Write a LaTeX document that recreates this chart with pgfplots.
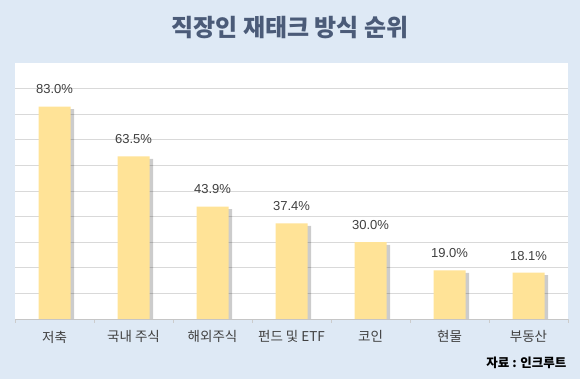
\documentclass[border=0pt]{standalone}
\usepackage{pgfplots}
\pgfplotsset{compat=1.18}
\usepackage{fontspec}
\setmainfont{Liberation Sans}
\newfontfamily\kr{Noto Sans CJK KR}
\definecolor{bgblue}{HTML}{DEE9F5}
\definecolor{titlec}{HTML}{4B5B78}
\definecolor{barc}{HTML}{FFE397}
\definecolor{labc}{HTML}{404040}
\begin{document}
\begin{tikzpicture}[x=1pt,y=1pt]
\fill[bgblue] (0,0) rectangle (580,379);
\node[font=\kr\bfseries\fontsize{24}{26}\selectfont, text=titlec] at (290,351) {직장인 재태크 방식 순위};
\node[font=\kr\bfseries\fontsize{12.5}{14}\selectfont, anchor=east] at (570,16) {자료 : 인크루트};
\begin{axis}[
  at={(15pt,60pt)}, anchor=south west,
  scale only axis, width=553pt, height=256pt,
  xmin=-0.5, xmax=6.5, ymin=0, ymax=100,
  axis background/.style={fill=white},
  axis x line*=bottom, axis y line*=left,
  x axis line style={draw=gray!45, line width=0.8pt},
  y axis line style={draw=none},
  ytick={10,20,...,90}, yticklabels={}, ymajorgrids,
  grid style={gray!30, line width=0.7pt},
  major y tick style={draw=none},
  xtick={0,...,6},
  xticklabels={저축,국내 주식,해외주식,펀드 및 ETF,코인,현물,부동산},
  major x tick style={draw=none},
  minor xtick={-0.5,0.5,...,6.5},
  minor x tick style={draw=gray!40},
  minor tick length=4pt,
  tick align=outside,
  xticklabel style={font=\kr\fontsize{13.5}{15}\selectfont, text=labc, yshift=-4pt},
  ybar, bar width=32pt,
  /pgf/number format/assume math mode=true,
  clip=false,
]
\addplot[fill=black, fill opacity=0.2, draw=none, bar shift=3.5pt] coordinates {(0,82)(1,62.5)(2,42.9)(3,36.4)(4,29)(5,18)(6,17.1)};
\addplot[fill=barc, draw=none, bar shift=0pt,
  nodes near coords={\pgfmathprintnumber[fixed,fixed zerofill,precision=1,assume math mode=true]{\pgfplotspointmeta}\%},
  nodes near coords style={font=\fontsize{13}{15}\selectfont, text=labc, anchor=south, yshift=9pt}]
  coordinates {(0,83.0)(1,63.5)(2,43.9)(3,37.4)(4,30.0)(5,19.0)(6,18.1)};
\end{axis}
\end{tikzpicture}
\end{document}
